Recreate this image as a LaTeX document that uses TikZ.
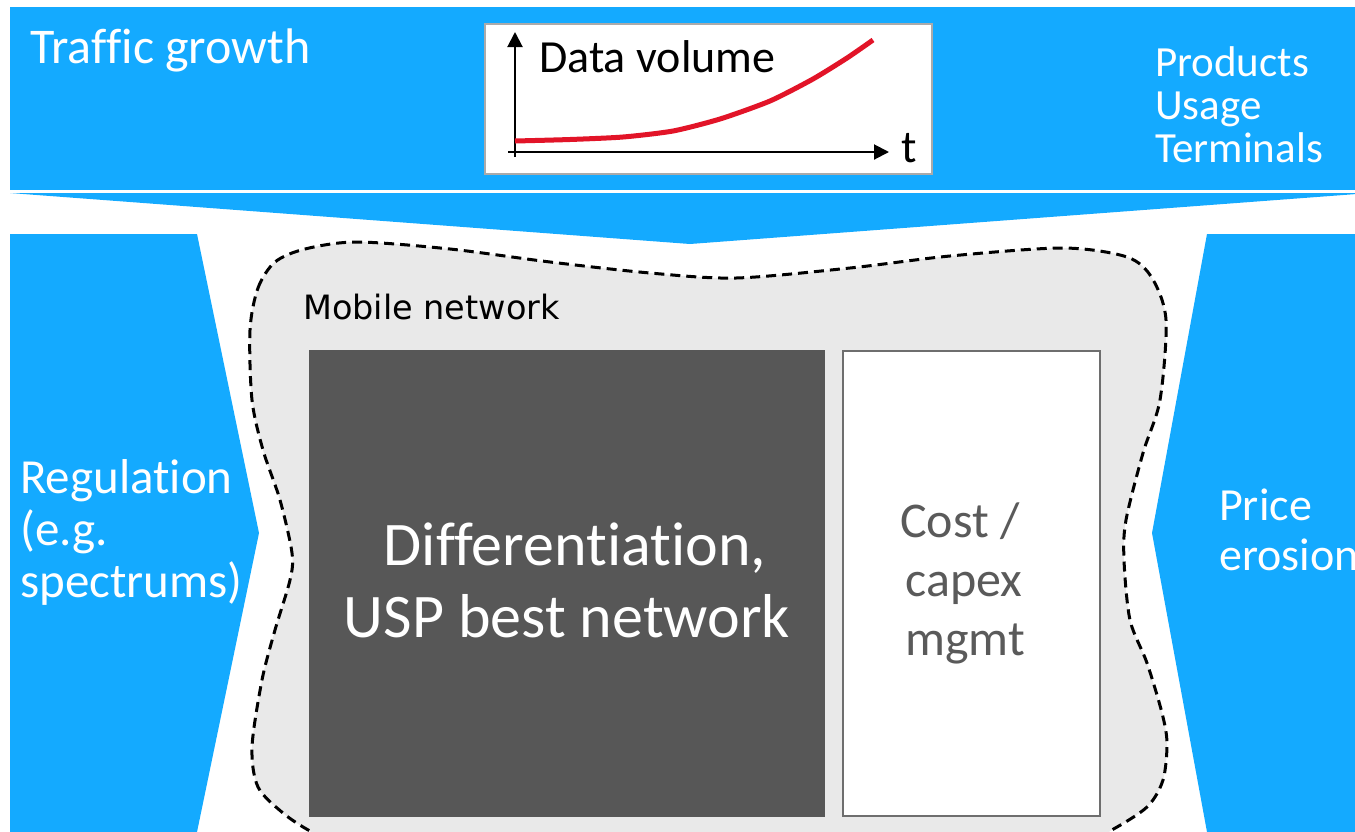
\documentclass[tikz,border=0pt]{standalone}
\usepackage{fontspec}
\setmainfont{Carlito}[Ligatures=NoCommon]
\newfontfamily\labfont{DejaVu Sans}
\usetikzlibrary{arrows.meta}
\definecolor{bandblue}{RGB}{20,170,255}
\definecolor{blobgrey}{RGB}{233,233,233}
\definecolor{darkbox}{RGB}{87,87,87}
\definecolor{costgrey}{RGB}{90,90,90}
\definecolor{boxframe}{RGB}{110,110,110}
\definecolor{chartframe}{RGB}{170,170,170}
\definecolor{curvered}{RGB}{226,20,40}
\begin{document}
\begin{tikzpicture}[x=1pt,y=-1pt,
  wtxt/.style={inner sep=0pt, anchor=base west, text=white},
  ctxt/.style={inner sep=0pt, anchor=base},
  axis/.style={line width=2pt, -{Triangle[length=15pt,width=15pt]}}]
\useasboundingbox (0,0) rectangle (1355,831);
\begin{scope}
\clip (0,0) rectangle (1355,831);
% blue shapes
\fill[bandblue] (10,7) rectangle (1360,190);
\fill[bandblue] (10,193) -- (1370,193) -- (690,244) -- cycle;
\fill[bandblue] (10,234) -- (197,234) -- (259,533) -- (197,832) -- (10,832) -- cycle;
\fill[bandblue] (1360,234) -- (1207,234) -- (1152,533) -- (1207,832) -- (1360,832) -- cycle;
% mobile network blob
\draw[fill=blobgrey, line width=3pt, dash pattern=on 10pt off 6pt]
  plot[smooth cycle, tension=0.5] coordinates {
  (250,330) (258,288) (275,262) (305,249) (357,242) (450,249)
  (550,262) (650,273) (736,278) (850,268) (950,256) (1063,248)
  (1127,257) (1152,278) (1166,320) (1160,400) (1143,453) (1126,520)
  (1124,560) (1130,620) (1147,663) (1162,713) (1167,743) (1163,780)
  (1147,807) (1110,831) (1070,850) (350,850) (310,831) (283,813) (258,787)
  (252,747) (262,680) (275,630) (290,580) (292,553) (280,500) (263,450)
  (252,400)};
% boxes
\node[fill=darkbox, draw=none, minimum width=516pt, minimum height=467pt, inner sep=0pt, anchor=north west] (diff) at (309,350) {};
\node[fill=white, draw=boxframe, line width=2pt, minimum width=257pt, minimum height=465pt, inner sep=0pt, anchor=north west] (cost) at (842,350) {};
% chart
\node[fill=white, draw=chartframe, line width=1.8pt, minimum width=447pt, minimum height=150pt, inner sep=0pt, anchor=north west] (chart) at (484,23) {};
\coordinate (yfoot) at (515,157);
\coordinate (ytip) at (515,32);
\coordinate (xfoot) at (508,152);
\coordinate (xtip) at (889,152);
\draw[axis] (yfoot) -- (ytip);
\draw[axis] (xfoot) -- (xtip);
\draw[curvered, line width=5pt] plot[smooth, tension=0.4] coordinates {
  (515,141) (570,139.5) (623,137) (673,131) (720,119) (770,101) (813,79) (847,58) (873,40)};
\node[ctxt, anchor=base west, font=\fontsize{46}{50}\selectfont] (dv) at (539,72) {Data volume};
\node[ctxt, anchor=base west, font=\fontsize{46}{50}\selectfont] (tl) at (901,162) {t};
% texts
\node[wtxt, font=\fontsize{50}{52}\selectfont] (tg) at (30,63) {Traffic growth};
\node[wtxt, font=\fontsize{43}{44}\selectfont] (p1) at (1155,76) {Products};
\node[wtxt, font=\fontsize{43}{44}\selectfont] (p2) at (1155,119) {Usage};
\node[wtxt, font=\fontsize{43}{44}\selectfont] (p3) at (1155,162) {Terminals};
\node[wtxt, font=\fontsize{49}{50}\selectfont] (r1) at (20,493) {Regulation};
\node[wtxt, font=\fontsize{49}{50}\selectfont] (r2) at (20,545) {(e.g.};
\node[wtxt, font=\fontsize{49}{50}\selectfont] (r3) at (20,597) {spectrums)};
\node[wtxt, font=\fontsize{46}{50}\selectfont] (e1) at (1219,520) {Price};
\node[wtxt, font=\fontsize{46}{50}\selectfont] (e2) at (1219,570) {erosion};
\node[ctxt, anchor=base west, font=\labfont\fontsize{33.5}{36}\selectfont] (mn) at (303,319) {Mobile network};
\node[ctxt, text=white, font=\fontsize{62}{66}\selectfont] (d1) at (575,565) {Differentiation,};
\node[ctxt, text=white, font=\fontsize{62}{66}\selectfont] (d2) at (567,637) {USP best network};
\node[ctxt, text=costgrey, font=\fontsize{50}{52}\selectfont] (c1) at (960,537) {Cost /};
\node[ctxt, text=costgrey, font=\fontsize{50}{52}\selectfont] (c2) at (964,596) {capex};
\node[ctxt, text=costgrey, font=\fontsize{50}{52}\selectfont] (c3) at (965,655) {mgmt};
\end{scope}
\end{tikzpicture}
\end{document}
